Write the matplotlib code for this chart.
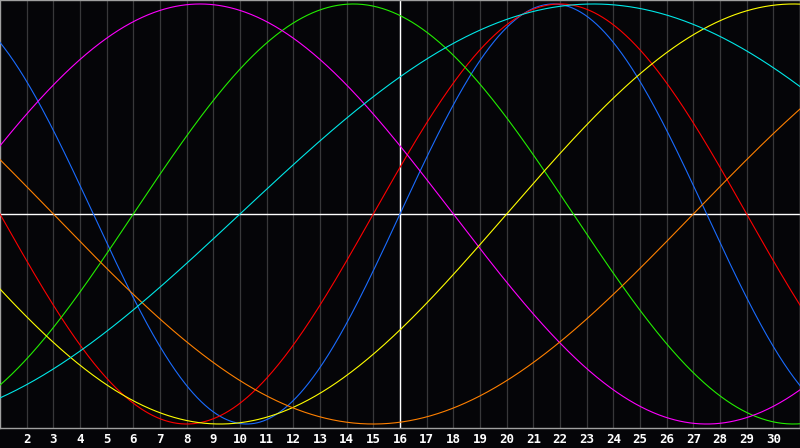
import numpy as np
import matplotlib
matplotlib.use("Agg")
import matplotlib.pyplot as plt

# days of the month shown, today marked with the white line
first_day = 1
last_day = 31
today = 16
tick_days = list(range(2, 31))

# cycle lengths (days) and the day where each cycle crosses zero going up
periods = [23, 28, 33, 38, 43, 48, 53]
zero_up_day = [16, 15, 6, -1, 20, 27, 10]
colors = ["#1a6cff", "#ff0000", "#22ee00", "#ff00ff", "#ffff00", "#ff8000", "#00e8e8"]

bg = "#050508"
fig = plt.figure(figsize=(8, 4.48), dpi=100, facecolor=bg)
ax = fig.add_axes([0, 20 / 448, 1, 428 / 448])
ax.set_facecolor(bg)

days = np.linspace(first_day, last_day, 800)
for p, z, c in zip(periods, zero_up_day, colors):
    ax.plot(days, np.sin(2 * np.pi * (days - z) / p), color=c, lw=0.8, zorder=3)

for d in tick_days:
    ax.axvline(d, color="#38383a", lw=0.9, zorder=1)
ax.axvline(today, color="white", lw=1.0, zorder=2)
ax.axhline(0, color="white", lw=1.0, zorder=2)

ax.set_xlim(first_day, last_day)
ax.set_ylim(-1.019, 1.019)
ax.set_yticks([])
ax.set_xticks(tick_days)
ax.set_xticklabels([str(d) for d in tick_days], color="white",
                   fontsize=9, fontweight="bold", family="DejaVu Sans Mono")
ax.tick_params(axis="x", length=0, pad=3.5)
for s in ax.spines.values():
    s.set_color("#a0a0a0")
    s.set_linewidth(1.0)

fig.savefig("out.png", dpi=100, facecolor=bg)
